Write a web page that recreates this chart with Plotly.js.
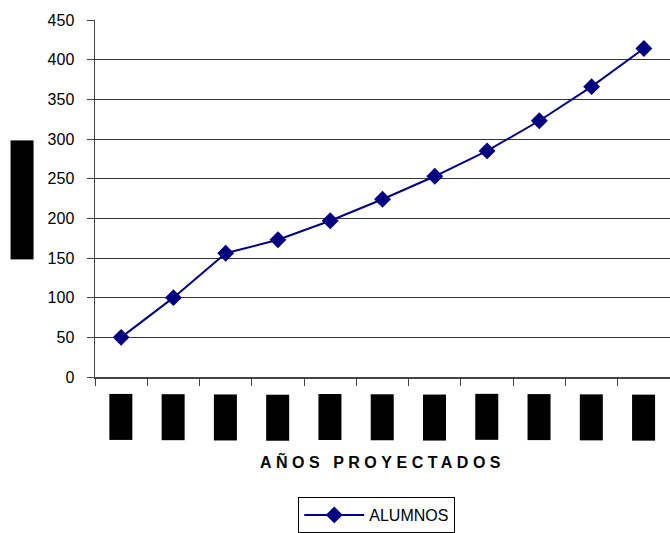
<!DOCTYPE html>
<html>
<head>
<meta charset="utf-8">
<script src="https://cdn.plot.ly/plotly-3.0.1.min.js"></script>
<style>html,body{margin:0;padding:0;background:#fff;}</style>
</head>
<body>
<div id="chart" style="width:670px;height:533px;"></div>
<script>
// Data (x tick labels are unreadable in the reference: rendered as black boxes)
const categories = ["2008","2009","2010","2011","2012","2013","2014","2015","2016","2017","2018"];
const alumnos = [50, 100, 156, 173, 197, 224, 253, 285, 323, 366, 414];
const seriesName = "ALUMNOS";
const xTitle = "AÑOS PROYECTADOS";
const yTitle = "ALUMNOS";

const trace = {
  x: categories,
  y: alumnos,
  type: "scatter",
  mode: "lines+markers",
  name: seriesName,
  line: {color: "#000080", width: 2},
  marker: {symbol: "diamond", size: 13, color: "#000080"}
};

// Tick labels drawn as black boxes, as in the reference
const tickBoxes = categories.map((c, i) => ({
  x: i, xref: "x", y: -0.047, yref: "paper",
  xanchor: "center", yanchor: "top",
  text: c, textangle: -90, showarrow: false,
  font: {family: "Liberation Sans, Arial, sans-serif", size: 14, color: "#000"},
  bgcolor: "#000", borderpad: 0, width: 45, height: 22
}));

const yTitleBox = {
  x: -0.127, xref: "paper", y: 0.496, yref: "paper",
  xanchor: "center", yanchor: "middle",
  text: yTitle, textangle: -90, showarrow: false,
  font: {family: "Liberation Sans, Arial, sans-serif", size: 14, color: "#000"},
  bgcolor: "#000", borderpad: 0, width: 118, height: 22
};

const layout = {
  width: 670, height: 533,
  margin: {l: 95, r: 0, t: 20, b: 154},
  paper_bgcolor: "#fff", plot_bgcolor: "#fff",
  font: {family: "Liberation Sans, Arial, sans-serif", size: 15, color: "#000"},
  showlegend: true,
  xaxis: {
    type: "category",
    range: [-0.5, categories.length - 0.5],
    tickson: "boundaries",
    ticks: "outside", ticklen: 7, tickcolor: "#444", tickwidth: 1,
    showticklabels: false,
    showgrid: false, zeroline: false,
    showline: true, linecolor: "#444", linewidth: 1.5,
    title: {text: xTitle, standoff: 79,
      font: {family: "Liberation Sans, Arial, sans-serif", size: 16, color: "#000", weight: "bold"}},
    automargin: false
  },
  yaxis: {
    range: [0, 450], dtick: 50, tick0: 0,
    ticks: "outside", ticklen: 7, tickcolor: "#444", tickwidth: 1,
    ticklabelstandoff: 9,
    showgrid: true, gridcolor: "#333", gridwidth: 1,
    zeroline: false,
    showline: true, linecolor: "#444", linewidth: 1.5,
    tickfont: {size: 16, color: "#000"},
    automargin: false
  },
  legend: {
    orientation: "h",
    x: 0.49, xanchor: "center",
    y: -0.337, yanchor: "top",
    bordercolor: "#000", borderwidth: 1,
    bgcolor: "#fff",
    itemwidth: 60,
    font: {size: 16, color: "#000"}
  },
  annotations: tickBoxes.concat([yTitleBox])
};

Plotly.newPlot("chart", [trace], layout, {displayModeBar: false, staticPlot: true}).then(() => {
  const t = document.querySelector(".g-xtitle text");
  if (t) t.style.letterSpacing = "4.5px";
});
</script>
</body>
</html>
